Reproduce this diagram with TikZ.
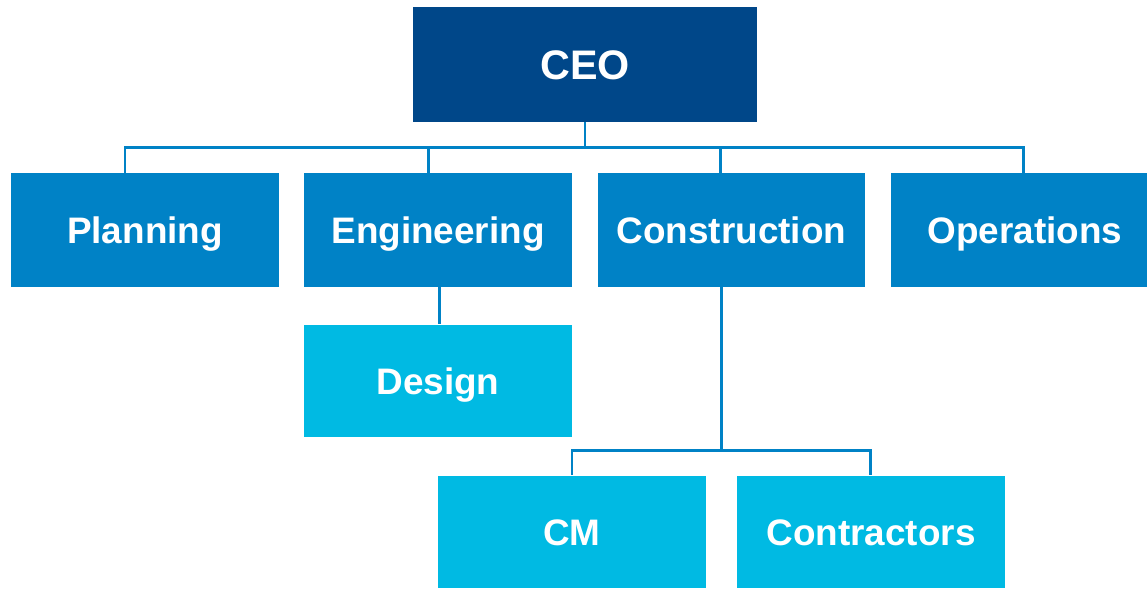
\documentclass[tikz,border=0pt]{standalone}
\usepackage{fontspec}
\setmainfont{Liberation Sans}
\usepackage{tikz}

\definecolor{azuloscuro}{RGB}{0,71,137}
\definecolor{azulmedio}{RGB}{0,130,198}
\definecolor{azulclaro}{RGB}{0,186,227}

\tikzset{
  caja/.style={fill=azulmedio, text=white, font=\fontsize{21}{24}\selectfont\bfseries,
    minimum width=5.36cm, minimum height=2.28cm, inner sep=0pt,
    text height=15pt, text depth=0pt},
  jefe/.style={caja, fill=azuloscuro, font=\fontsize{23.5}{27}\selectfont\bfseries,
    minimum width=6.88cm, minimum height=2.3cm, text height=16.8pt},
  sub/.style={caja, fill=azulclaro, minimum height=2.26cm},
  linea/.style={draw=azulmedio, line width=1.7pt}
}

\begin{document}
\begin{tikzpicture}[x=0.02cm, y=-0.02cm]
            \useasboundingbox (0,0) rectangle (1147,589);
            \clip (0,0) rectangle (1147,589);

            % Direccion
            \node[jefe] (ceo) at (585,64.5) {CEO};

            % Departamentos
            \node[caja] (planning) at (145,230) {Planning};
            \node[caja] (engineering) at (438,230) {Engineering};
            \node[caja] (construction) at (731.5,230) {Construction};
            \node[caja] (operations) at (1025,230) {Operations};

            % Subareas
            \node[sub] (design) at (438,381) {Design};
            \node[sub] (cm) at (572,532) {CM};
            \node[sub] (contractors) at (871,532) {Contractors};

            % Lineas de mando
            \draw[linea] ([xshift=-0.4cm]planning.north) -- ++(0,-25) -| ([xshift=-0.04cm]operations.north);
            \draw[linea] (ceo.south) -- ++(0,26);
            \draw[linea] ([xshift=-0.19cm]engineering.north) -- ++(0,-25);
            \draw[linea] ([xshift=-0.23cm]construction.north) -- ++(0,-25);
            \draw[linea] ([xshift=0.03cm]engineering.south) -- ([xshift=0.03cm]design.north);
            \draw[linea] ([xshift=-0.2cm]construction.south) -- ++(0,164);
            \draw[linea] (cm.north) -- ++(0,-25) -| ([xshift=-0.02cm]contractors.north);
        \end{tikzpicture}
\end{document}
